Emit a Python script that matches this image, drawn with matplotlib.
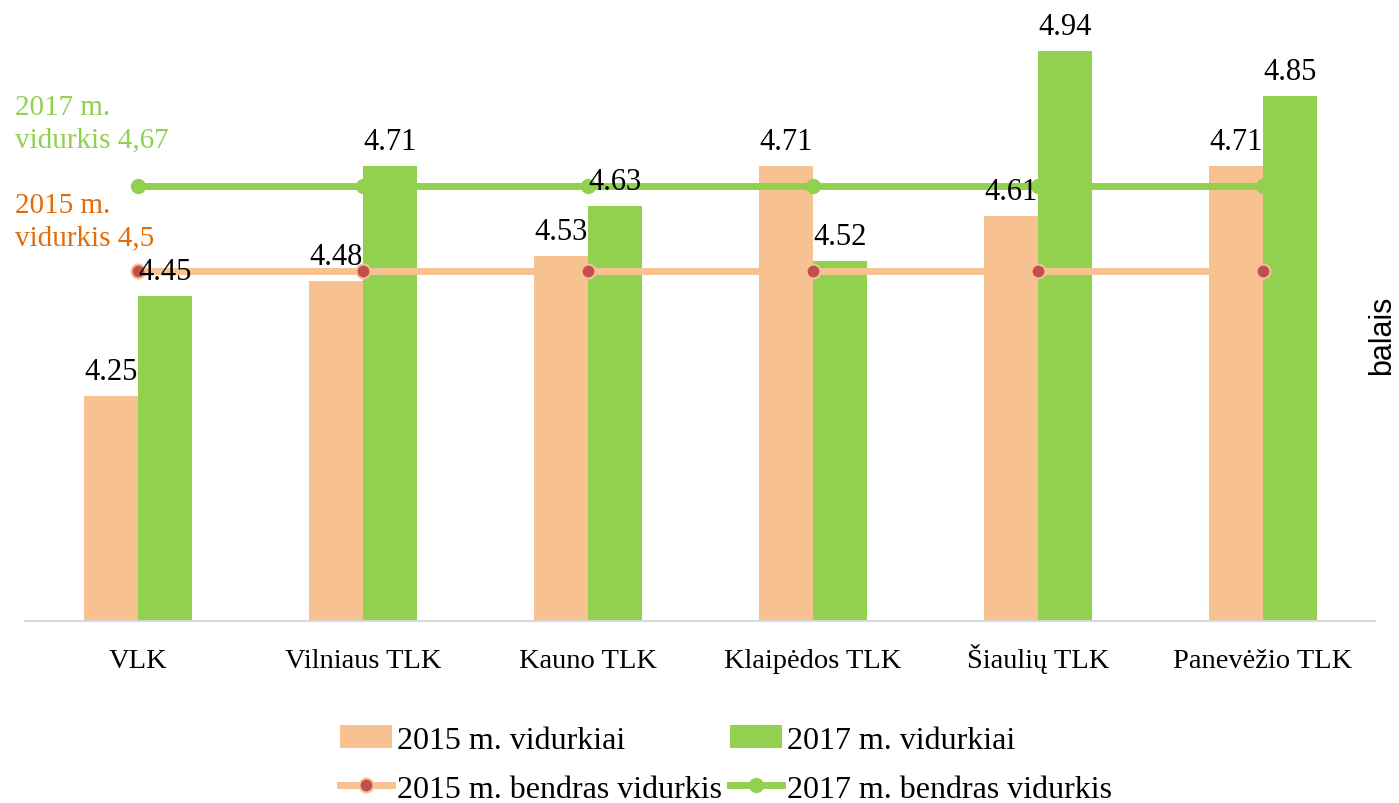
import numpy as np
import matplotlib.pyplot as plt

kategorijos = ["VLK", "Vilniaus TLK", "Kauno TLK", "Klaipėdos TLK", "Šiaulių TLK", "Panevėžio TLK"]
vid_2015 = [4.25, 4.48, 4.53, 4.71, 4.61, 4.71]
vid_2017 = [4.45, 4.71, 4.63, 4.52, 4.94, 4.85]
bendras_2015 = 4.5
bendras_2017 = 4.67

spalva_2015 = "#F8C191"
spalva_2017 = "#92D050"
spalva_tasko = "#C0504D"

plt.rcParams["font.family"] = ["Liberation Serif", "DejaVu Serif"]

fig = plt.figure(figsize=(13.99, 8.04), dpi=100)
ax = fig.add_axes([0.018, 0.2264, 0.965, 0.7462])

x = np.arange(len(kategorijos))
w = 0.24

b1 = ax.bar(x - w / 2, vid_2015, w, color=spalva_2015, label="2015 m. vidurkiai", zorder=2)
b2 = ax.bar(x + w / 2, vid_2017, w, color=spalva_2017, label="2017 m. vidurkiai", zorder=2)

l1, = ax.plot(x, [bendras_2015] * len(x), color=spalva_2015, lw=5, marker="o", ms=10,
              mfc=spalva_tasko, mec=spalva_2015, mew=1.5, zorder=3,
              label="2015 m. bendras vidurkis")
l2, = ax.plot(x, [bendras_2017] * len(x), color=spalva_2017, lw=5, marker="o", ms=10,
              mfc=spalva_2017, mec=spalva_2017, zorder=3,
              label="2017 m. bendras vidurkis")

for i in range(len(x)):
    ax.text(x[i] - w / 2, vid_2015[i] + 0.02, f"{vid_2015[i]:.2f}", ha="center", va="bottom",
            fontsize=22, zorder=4)
    ax.text(x[i] + w / 2, vid_2017[i] + 0.02, f"{vid_2017[i]:.2f}", ha="center", va="bottom",
            fontsize=22, zorder=4)

ax.set_xlim(-0.5, len(x) - 0.5)
ax.set_ylim(3.8, 5.0)
ax.set_yticks([])
ax.set_xticks(x)
ax.set_xticklabels(kategorijos, fontsize=20.5)
ax.tick_params(axis="x", length=0, pad=33)
for lbl in ax.get_xticklabels():
    lbl.set_va("baseline")
for s in ["top", "right", "left"]:
    ax.spines[s].set_visible(False)
ax.spines["bottom"].set_color("#D9D9D9")
ax.spines["bottom"].set_linewidth(1.5)

fig.text(0.011, 0.8458, "2017 m.\nvidurkis 4,67", color=spalva_2017, fontsize=21,
         ha="left", va="center", linespacing=1.3)
fig.text(0.011, 0.7238, "2015 m.\nvidurkis 4,5", color="#E36C0A", fontsize=21,
         ha="left", va="center", linespacing=1.3)

fig.text(0.988, 0.583, "balais", rotation=90, ha="center", va="center",
         fontsize=22, family=["Liberation Sans", "DejaVu Sans"])

fig.legend(handles=[b1, l1, b2, l2], loc="center", bbox_to_anchor=(0.519, 0.048),
           ncol=2, frameon=False, fontsize=23, handlelength=1.63, handletextpad=0.16,
           columnspacing=0.25, labelspacing=0.62)

plt.savefig("out.png", dpi=100)
